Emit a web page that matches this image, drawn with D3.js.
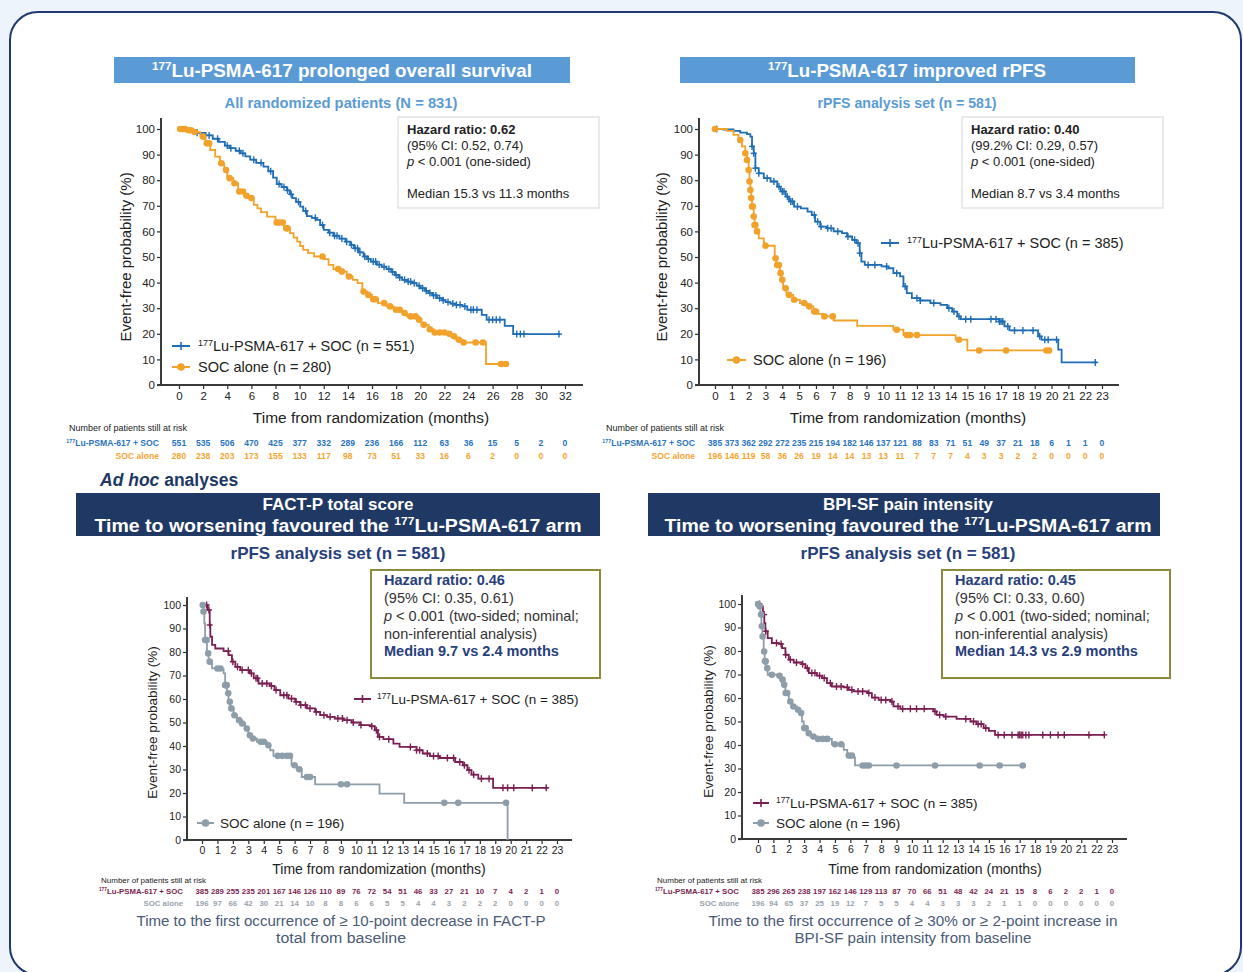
<!DOCTYPE html>
<html>
<head>
<meta charset="utf-8">
<script src="https://cdn.jsdelivr.net/npm/d3@7"></script>
<style>
  body { margin: 0; background: #edf4fb; }
  svg { display: block; }
  text { font-family: "Liberation Sans", Arial, sans-serif; }
</style>
</head>
<body>
<svg id="chart" width="1243" height="972"></svg>
<script>
// ---------- shared ticks ----------
const yTicks = [0, 10, 20, 30, 40, 50, 60, 70, 80, 90, 100];
const osMonths = [0, 2, 4, 6, 8, 10, 12, 14, 16, 18, 20, 22, 24, 26, 28, 30, 32];
const rpfsMonths = d3.range(0, 24);

// ---------- Overall survival (all randomized, N = 831) ----------
const osLuSteps = [[0,100],[0.8,99.5],[1.5,98.5],[2.2,97.5],[2.8,96.2],[3.3,95],[3.8,93.5],[4.2,92.5],[4.7,91.5],[5.1,90.5],[5.5,89.3],[5.9,88],[6.4,86.8],[7.0,85.3],[7.4,83.5],[7.8,81],[8.1,78.5],[8.5,77.3],[8.95,76],[9.2,74.5],[9.4,73],[9.7,71.5],[10.05,69.7],[10.3,68],[10.6,66],[11.0,65.3],[11.4,64.5],[11.7,62.5],[12.0,60.6],[12.4,59.5],[12.8,58.3],[13.3,57.2],[13.8,56],[14.2,54.7],[14.5,53.4],[14.9,51.8],[15.3,50.2],[15.6,49.2],[15.9,48.2],[16.4,47],[16.8,46.2],[17.2,45.3],[17.6,44.2],[17.9,43],[18.2,42],[18.5,41.1],[18.9,40.4],[19.3,39.8],[19.7,38.8],[20.0,37.8],[20.4,36.8],[20.7,35.9],[21.0,35],[21.4,33.9],[21.8,33.1],[22.1,32.4],[22.5,31.8],[22.9,31.3],[23.5,30.7],[23.9,29.4],[25.1,27.4],[25.5,25.5],[27.0,23.1],[27.7,19.9],[31.6,19.9]];
const osSocSteps = [[0,100],[0.6,99.5],[1.2,98.8],[1.77,97],[2.2,94.4],[2.6,91.8],[3.0,89.2],[3.4,86.6],[3.75,84],[4.0,80.8],[4.5,78.8],[4.9,75.6],[5.4,73.9],[5.8,73],[6.2,70.4],[6.5,69],[6.8,67.5],[7.3,65.8],[8.0,63.5],[8.7,61.2],[9.2,59.3],[9.5,57.6],[9.8,56],[10.05,54.3],[10.3,52.8],[10.7,51.5],[11.2,50.2],[12.0,49.2],[12.4,46.9],[12.8,45.3],[13.4,44.3],[13.9,42.4],[14.4,41.1],[14.8,39.8],[15.2,36.5],[15.6,35.2],[16.0,33.5],[16.5,32],[17.2,30.7],[17.8,29.4],[18.5,28.1],[18.9,26.8],[19.9,25.5],[20.1,23.5],[20.7,21.8],[21.1,20.5],[22.2,20],[22.5,19],[23.0,17.7],[23.5,16.6],[25.45,8.2],[27.2,8.2]];
const osLuCensor = [1.5,2.5,3.2,4.0,4.3,5.0,5.3,6.2,6.8,7.6,8.3,8.7,9.0,9.3,9.9,10.5,11.3,11.9,12.5,12.9,13.1,13.5,13.9,14.3,14.6,14.8,15.0,15.4,15.7,16.1,16.3,16.6,17.0,17.4,17.7,18.0,18.3,18.7,19.0,19.2,19.5,19.9,20.2,20.5,20.8,21.1,21.3,21.6,21.9,22.3,22.7,23.0,23.3,23.7,24.2,24.4,24.7,25.7,26.0,26.3,26.6,28.0,28.3,28.6,31.5];
const osSocCensor = [0.1,0.3,0.5,0.8,1.0,1.3,2.0,2.3,2.5,3.5,3.9,4.2,4.6,5.0,5.3,5.6,6.0,8.1,8.3,8.6,8.9,9.0,11.9,13.2,13.5,14.1,15.3,15.7,16.1,16.3,17.0,17.5,18.0,18.3,18.7,19.2,19.6,19.9,20.3,20.8,21.2,21.6,22.0,22.4,22.8,23.2,23.6,24.6,25.2,26.7,27.1];
const osRiskLu = [551,535,506,470,425,377,332,289,236,166,112,63,36,15,5,2,0];
const osRiskSoc = [280,238,203,173,155,133,117,98,73,51,33,16,6,2,0,0,0];

// ---------- rPFS (rPFS analysis set, n = 581) ----------
const rpfsLuSteps = [[0,100],[0.5,99.8],[1.1,99.3],[1.5,98.6],[1.9,98],[2.1,97],[2.2,93.2],[2.3,90.5],[2.4,84.7],[2.6,82.7],[2.9,80.8],[3.3,79.5],[3.7,77.5],[3.9,75.6],[4.2,73.6],[4.4,71.7],[4.7,69.7],[5.1,69],[5.5,67.7],[5.75,66.4],[5.95,63.8],[6.25,61.9],[6.65,61.2],[7.05,60],[7.55,59.3],[7.85,58],[8.15,56.7],[8.4,55.4],[8.6,51.5],[8.7,48.2],[8.9,46.9],[9.9,46.3],[10.3,45.6],[10.6,43.7],[11.0,42.4],[11.2,38.5],[11.4,35.9],[11.7,33.9],[12.2,33],[12.8,32],[13.4,31.3],[13.8,30],[14.1,28.7],[14.4,26.8],[14.6,25.7],[16.9,24.8],[17.2,22.9],[17.5,21.3],[19.2,19],[19.4,17.7],[20.4,13.8],[20.6,8.8],[22.7,8.8]];
const rpfsSocSteps = [[0,100],[0.7,99.3],[1.1,97.7],[1.4,95.7],[1.6,93.2],[1.8,90.5],[1.9,87.9],[2.0,84],[2.05,79.5],[2.1,76.2],[2.15,73],[2.2,69.7],[2.3,65.8],[2.35,62.5],[2.45,60],[2.6,57.3],[2.9,55.4],[3.0,54.4],[3.55,49.5],[3.65,46.9],[3.85,43.7],[3.95,41.1],[4.05,37.8],[4.25,35.2],[4.65,33.3],[5.05,32],[5.45,30.7],[5.85,28.7],[6.05,27.8],[6.45,26.8],[7.05,25.2],[8.45,23.1],[10.6,21.6],[11.2,19.5],[14.3,17.7],[15.0,13.5],[19.9,13.5]];
const rpfsLuCensor = [0.1,2.2,2.3,2.4,2.6,3.1,3.5,3.8,4.0,4.1,4.3,4.5,4.6,4.9,5.9,6.1,6.3,6.7,6.9,7.3,7.9,8.3,8.5,8.6,9.1,9.5,10.2,10.8,11.3,12.0,12.2,13.0,13.9,14.2,14.5,14.9,15.2,16.4,16.7,16.9,17.0,17.1,17.4,17.8,18.3,18.9,19.3,19.6,19.8,20.3,22.6];
const rpfsSocCensor = [0,1.5,1.8,1.9,2.0,2.05,2.1,2.15,2.2,2.25,2.3,2.35,2.4,2.5,3.0,3.6,3.7,3.8,3.9,4.0,4.2,4.4,4.7,5.3,5.6,5.9,6.0,6.5,7.0,10.8,11.4,11.6,12.0,14.5,15.7,17.3,19.7,19.85];
const rpfsRiskLu = [385,373,362,292,272,235,215,194,182,146,137,121,88,83,71,51,49,37,21,18,6,1,1,0];
const rpfsRiskSoc = [196,146,119,58,36,26,19,14,14,13,13,11,7,7,7,4,3,3,2,2,0,0,0,0];

// ---------- FACT-P total score, time to worsening ----------
const factLuSteps = [[0,100],[0.37,97.9],[0.5,91.5],[0.54,86.5],[0.65,83],[0.86,81.5],[1.4,80.4],[1.72,78.7],[1.94,75.9],[2.16,73.7],[2.48,72.3],[3.1,70.9],[3.35,68.8],[3.66,66.6],[4.4,65.6],[4.7,63.8],[5.07,61.6],[5.6,60.2],[6.04,58.8],[6.36,57.4],[6.8,56],[7.33,54.5],[7.65,53.1],[8.1,52.4],[8.6,51.7],[9.16,51],[9.7,50],[10.24,48.9],[10.9,48.4],[11.2,46.7],[11.4,43.9],[11.75,42.9],[12.4,41],[12.8,39.6],[13.9,38.2],[14.3,36.8],[14.77,35.7],[15.4,34.9],[16.4,33.2],[16.9,31.8],[17.2,29.7],[17.46,27.8],[17.9,26.1],[18.86,22.2],[22.4,22.2]];
const factSocSteps = [[0,100],[0.1,97.2],[0.15,92.2],[0.2,85.1],[0.32,79.4],[0.43,75.9],[0.65,73],[1.3,72.7],[1.4,70.9],[1.5,65.9],[1.62,62.4],[1.72,58.8],[1.83,56],[2.05,53.1],[2.26,51],[2.59,49.6],[2.8,47.4],[3.0,44.6],[3.23,43.2],[3.56,41.8],[4.2,40.3],[4.42,38.2],[4.63,35.8],[5.8,31.8],[6.14,30.1],[6.46,26.8],[7.33,23.7],[11.5,19.7],[13.1,15.8],[19.8,0]];
const factLuCensor = [0.3,0.45,0.5,1.7,2.0,2.3,2.6,3.0,3.2,3.5,3.6,3.9,4.2,4.5,4.8,5.3,5.5,5.8,6.1,6.4,6.7,7.0,7.4,7.9,8.3,8.8,9.1,9.4,9.8,10.3,11.0,11.3,11.5,12.1,13.5,13.9,14.1,14.6,15.0,15.3,15.9,16.3,16.7,17.0,17.3,17.6,18.1,18.6,19.5,19.8,20.2,21.4,22.3];
const factSocCensor = [0.05,0.1,0.2,0.25,0.3,0.4,0.5,1.0,1.2,1.5,1.55,1.6,1.7,1.8,1.9,2.1,2.4,2.6,2.9,3.1,3.3,3.8,4.0,4.3,4.9,5.2,5.5,5.7,6.0,6.3,6.8,7.0,9.0,9.4,15.7,16.6,19.7];
const factRiskLu = [385,289,255,235,201,167,146,126,110,89,76,72,54,51,46,33,27,21,10,7,4,2,1,0];
const factRiskSoc = [196,97,66,42,30,21,14,10,8,8,6,6,5,5,4,4,3,2,2,2,0,0,0,0];

// ---------- BPI-SF pain intensity, time to worsening ----------
const bpiLuSteps = [[0,100],[0.2,99],[0.32,95.5],[0.41,91.9],[0.48,88.4],[0.63,85.5],[0.9,83.4],[1.34,83],[1.56,81.2],[1.78,78.4],[2.0,76.3],[2.32,75.1],[2.86,74.4],[3.08,72.7],[3.3,70.6],[3.83,69.5],[4.16,68.5],[4.48,66.3],[4.8,64.9],[5.57,64.5],[5.9,63.5],[6.2,62.8],[7.1,62.1],[7.4,60.2],[7.84,59.2],[8.6,58.5],[8.8,56.4],[9.25,55.4],[11.4,54.3],[11.6,52.8],[12.06,52.1],[12.9,51.1],[13.8,50],[14.2,48.9],[14.66,47.2],[15.0,46],[15.4,44.3],[22.5,44.3]];
const bpiSocSteps = [[0,100],[0.06,99],[0.15,95.5],[0.22,90.5],[0.28,86.2],[0.37,79.8],[0.43,75.6],[0.54,72.7],[0.63,69.9],[1.23,69.5],[1.45,67.8],[1.67,65.6],[1.78,62.1],[2.0,58.5],[2.2,56.4],[2.53,55],[2.75,53.6],[2.86,50],[2.97,47.2],[3.18,45],[3.4,43.6],[3.83,42.6],[4.8,40.3],[5.57,37.9],[5.8,35.5],[6.2,34.7],[6.3,31.3],[17.4,31.3]];
const bpiLuCensor = [0.1,0.4,0.5,1.2,1.5,1.8,2.1,2.5,2.9,3.2,3.5,3.7,4.0,4.3,4.7,5.1,5.4,5.8,6.1,6.5,6.8,7.2,7.6,8.0,8.3,8.7,9.1,9.4,9.9,10.3,10.8,11.5,11.8,12.2,13.5,14.0,14.3,14.5,14.8,15.6,16.0,16.5,16.9,17.0,17.1,17.2,17.4,17.6,18.5,19.0,19.5,19.9,21.5,22.5];
const bpiSocCensor = [0,0.1,0.2,0.25,0.3,0.4,0.45,0.5,0.6,0.9,1.4,1.6,1.7,1.8,1.9,2.1,2.3,2.6,2.8,3.0,3.1,3.3,3.6,3.9,4.2,4.5,5.0,5.4,5.9,6.1,6.8,7.0,7.2,9.0,11.5,14.4,15.7,17.2];
const bpiRiskLu = [385,296,265,238,197,162,146,129,113,87,70,66,51,48,42,24,21,15,8,6,2,2,1,0];
const bpiRiskSoc = [196,94,65,37,25,19,12,7,5,5,4,4,3,3,3,2,1,1,0,0,0,0,0,0];

// ---------- colours ----------
const C = {
  blue: "#1f6db4", orange: "#f2a22a", plum: "#7b1f52", slate: "#8d9eaa",
  lightHeader: "#5b9bd5", navy: "#203864", navyText: "#27407c", foot: "#4a5a78",
  axis: "#3a3a3a", tick: "#2b2b2b"
};

const svg = d3.select("#chart");

// card
svg.append("rect").attr("x", 10).attr("y", 12).attr("width", 1231).attr("height", 963)
  .attr("rx", 28).attr("fill", "#ffffff").attr("stroke", "#1f3a6e").attr("stroke-width", 2);

// text with an optional superscript "177" prefix
function richText(parent, x, y, parts, opts) {
  const t = parent.append("text").attr("x", x).attr("y", y)
    .attr("font-size", opts.size).attr("fill", opts.fill || "#222")
    .attr("font-weight", opts.weight || "normal")
    .attr("text-anchor", opts.anchor || "start");
  if (opts.family) t.style("font-family", opts.family);
  if (opts.width) t.attr("textLength", opts.width).attr("lengthAdjust", "spacingAndGlyphs");
  if (opts.spacing) t.attr("letter-spacing", opts.spacing);
  let shifted = false;
  parts.forEach(p => {
    const s = t.append("tspan").text(p.t);
    if (p.sup) {
      s.attr("font-size", opts.size * 0.62).attr("dy", -opts.size * 0.38);
      shifted = true;
    } else if (shifted) {
      s.attr("dy", opts.size * 0.38);
      shifted = false;
    }
    if (p.bold) s.attr("font-weight", "bold");
    if (p.italic) s.attr("font-style", "italic");
    if (p.fill) s.attr("fill", p.fill);
  });
  return t;
}

const luLabel = [{t: "177", sup: true}, {t: "Lu-PSMA-617 + SOC"}];

function survivalAt(steps, t) {
  const i = d3.bisector(d => d[0]).right(steps, t) - 1;
  return steps[Math.max(0, i)][1];
}

function drawPanel(cfg) {
  const g = svg.append("g");
  const months = cfg.months;
  const x = d3.scaleLinear().domain([0, months[months.length - 1]]).range([cfg.x0, cfg.x1]);
  const y = d3.scaleLinear().domain([0, 100]).range([cfg.yb, cfg.yt]);

  // axes
  const xa = g.append("g").attr("transform", `translate(0,${cfg.yb})`)
    .call(d3.axisBottom(x).tickValues(months).tickSize(4).tickPadding(3));
  const ya = g.append("g").attr("transform", `translate(${cfg.axisL},0)`)
    .call(d3.axisLeft(y).tickValues(yTicks).tickSize(4).tickPadding(2));
  [xa, ya].forEach(a => {
    a.select(".domain").remove();
    a.selectAll("line").attr("stroke", C.tick).attr("stroke-width", 1.2);
    a.selectAll("text").attr("font-size", cfg.tickSize).attr("fill", "#222")
      .style("font-family", '"Liberation Sans", Arial, sans-serif');
  });
  g.append("line").attr("x1", cfg.axisL).attr("x2", cfg.axisL).attr("y1", cfg.axisTop).attr("y2", cfg.yb + 0.5)
    .attr("stroke", C.axis).attr("stroke-width", 2);
  g.append("line").attr("x1", cfg.axisL - 4).attr("x2", cfg.axisR).attr("y1", cfg.yb).attr("y2", cfg.yb)
    .attr("stroke", C.axis).attr("stroke-width", 2);

  // axis titles
  g.append("text").attr("transform", `translate(${cfg.yTitleX},${(cfg.yt + cfg.yb) / 2}) rotate(-90)`)
    .attr("text-anchor", "middle").attr("font-size", cfg.titleSize).attr("fill", "#222")
    .text("Event-free probability (%)");
  g.append("text").attr("x", cfg.xTitleX).attr("y", cfg.xTitleY).attr("text-anchor", "middle")
    .attr("font-size", cfg.titleSize + 0.5).attr("fill", "#222")
    .text("Time from randomization (months)");

  // curves
  const line = d3.line().x(d => x(d[0])).y(d => y(d[1])).curve(d3.curveStepAfter);
  cfg.series.forEach(s => {
    g.append("path").datum(s.steps).attr("d", line).attr("fill", "none")
      .attr("stroke", s.color).attr("stroke-width", 1.8);
    const cg = g.append("g");
    s.censor.forEach(t => {
      const cx = x(t), cy = y(survivalAt(s.steps, t));
      if (s.mark === "plus") {
        cg.append("line").attr("x1", cx).attr("x2", cx).attr("y1", cy - 3.5).attr("y2", cy + 3.5)
          .attr("stroke", s.color).attr("stroke-width", 1.4);
        cg.append("line").attr("x1", cx - 3).attr("x2", cx + 3).attr("y1", cy).attr("y2", cy)
          .attr("stroke", s.color).attr("stroke-width", 1.4);
      } else {
        cg.append("circle").attr("cx", cx).attr("cy", cy).attr("r", 3.3).attr("fill", s.color);
      }
    });
  });

  // legend
  cfg.series.forEach(s => {
    const L = s.legend;
    g.append("line").attr("x1", L.x).attr("x2", L.x + L.len).attr("y1", L.y).attr("y2", L.y)
      .attr("stroke", s.color).attr("stroke-width", 2);
    const mx = L.x + L.len / 2;
    if (s.mark === "plus") {
      g.append("line").attr("x1", mx).attr("x2", mx).attr("y1", L.y - 4).attr("y2", L.y + 4)
        .attr("stroke", s.color).attr("stroke-width", 1.6);
    } else {
      g.append("circle").attr("cx", mx).attr("cy", L.y).attr("r", 3.8).attr("fill", s.color);
    }
    richText(g, L.tx, L.y + cfg.legendSize * 0.36, s.legendText, {size: cfg.legendSize, fill: "#222"});
  });

  // info box
  const B = cfg.box;
  g.append("rect").attr("x", B.x).attr("y", B.y).attr("width", B.w).attr("height", B.h)
    .attr("fill", "#fff").attr("stroke", B.stroke).attr("stroke-width", B.sw);
  B.lines.forEach((ln, i) => {
    richText(g, B.tx, B.ys[i], ln, {size: B.size, fill: B.fill, spacing: B.spacing});
  });

  // numbers at risk
  const R = cfg.risk;
  g.append("text").attr("x", R.headX).attr("y", R.headY).attr("font-size", R.headSize).attr("fill", "#222")
    .text("Number of patients still at risk");
  cfg.series.forEach((s, k) => {
    const ry = R.rowY[k];
    richText(g, R.labelX, ry, k === 0 ? luLabel : [{t: "SOC alone"}],
      {size: R.size, fill: s.riskColor, anchor: "end", weight: R.weight});
    g.append("g").selectAll("text").data(s.risk).join("text")
      .attr("x", (d, i) => x(months[i])).attr("y", ry)
      .attr("text-anchor", "middle").attr("font-size", R.size).attr("font-weight", R.weight)
      .attr("fill", s.riskColor).text(d => d);
  });
}

// ---------- section headings ----------
const narrow = '"Liberation Sans Narrow", "Liberation Sans", Arial, sans-serif';

svg.append("rect").attr("x", 114).attr("y", 57).attr("width", 456).attr("height", 26).attr("fill", C.lightHeader);
richText(svg, 342, 77, [{t: "177", sup: true}, {t: "Lu-PSMA-617 prolonged overall survival"}],
  {size: 19, fill: "#fff", weight: "bold", anchor: "middle", width: 380, family: narrow});
svg.append("text").attr("x", 341).attr("y", 108).attr("text-anchor", "middle").attr("font-size", 15.5)
  .attr("font-weight", "bold").attr("fill", C.lightHeader).style("font-family", narrow)
  .attr("textLength", 233).attr("lengthAdjust", "spacingAndGlyphs")
  .text("All randomized patients (N = 831)");

svg.append("rect").attr("x", 680).attr("y", 57).attr("width", 455).attr("height", 26).attr("fill", C.lightHeader);
richText(svg, 907, 77, [{t: "177", sup: true}, {t: "Lu-PSMA-617 improved rPFS"}],
  {size: 19, fill: "#fff", weight: "bold", anchor: "middle", width: 278, family: narrow});
svg.append("text").attr("x", 907).attr("y", 108).attr("text-anchor", "middle").attr("font-size", 15.5)
  .attr("font-weight", "bold").attr("fill", C.lightHeader).style("font-family", narrow)
  .attr("textLength", 179).attr("lengthAdjust", "spacingAndGlyphs")
  .text("rPFS analysis set (n = 581)");

richText(svg, 100, 486, [{t: "Ad hoc", italic: true}, {t: " analyses"}],
  {size: 17.5, fill: C.navy, weight: "bold"});

[{x: 76, w: 524, cx: 338, top: "FACT-P total score"},
 {x: 648, w: 512, cx: 908, top: "BPI-SF pain intensity"}].forEach(h => {
  svg.append("rect").attr("x", h.x).attr("y", 493).attr("width", h.w).attr("height", 43).attr("fill", C.navy);
  svg.append("text").attr("x", h.cx).attr("y", 510).attr("text-anchor", "middle").attr("font-size", 17)
    .attr("font-weight", "bold").attr("fill", "#fff").text(h.top);
  richText(svg, h.cx, 532, [{t: "Time to worsening favoured the "}, {t: "177", sup: true}, {t: "Lu-PSMA-617 arm"}],
    {size: 17.5, fill: "#fff", weight: "bold", anchor: "middle", width: 487});
  svg.append("text").attr("x", h.cx).attr("y", 559).attr("text-anchor", "middle").attr("font-size", 17)
    .attr("font-weight", "bold").attr("fill", C.navyText).text("rPFS analysis set (n = 581)");
});

// ---------- panels ----------
const topBox = (x, lines) => ({
  x: x, y: 117, w: 201, h: 91, stroke: "#d6d6d6", sw: 1, size: 13, fill: "#222",
  tx: x + 9, ys: [134, 150, 166, 198], lines: lines
});
const bottomBox = (x, w, lines) => ({
  x: x, y: 570, w: w, h: 108, stroke: "#8c8a3c", sw: 2, size: 14.5, fill: "#333",
  tx: x + 13, ys: [585, 603, 621, 639, 656], lines: lines
});

drawPanel({
  months: osMonths, x0: 179, x1: 565, yt: 129, yb: 385, axisL: 161, axisR: 583, axisTop: 118,
  tickSize: 11.5, titleSize: 15, yTitleX: 131, xTitleX: 371, xTitleY: 423, legendSize: 14.5,
  series: [
    {steps: osLuSteps, censor: osLuCensor, color: C.blue, mark: "plus", risk: osRiskLu, riskColor: "#2a73bd",
     legend: {x: 172, len: 18, y: 346, tx: 198}, legendText: [{t: "177", sup: true}, {t: "Lu-PSMA-617 + SOC (n = 551)"}]},
    {steps: osSocSteps, censor: osSocCensor, color: C.orange, mark: "dot", risk: osRiskSoc, riskColor: "#f3a532",
     legend: {x: 172, len: 18, y: 367, tx: 198}, legendText: [{t: "SOC alone (n = 280)"}]}
  ],
  box: topBox(398, [
    [{t: "Hazard ratio: 0.62", bold: true}],
    [{t: "(95% CI: 0.52, 0.74)"}],
    [{t: "p", italic: true}, {t: " < 0.001 (one-sided)"}],
    [{t: "Median 15.3 vs 11.3 months"}]
  ]),
  risk: {headX: 69, headY: 431, headSize: 9, labelX: 159, rowY: [446, 459], size: 8.6, weight: "bold"}
});

drawPanel({
  months: rpfsMonths, x0: 715, x1: 1102, yt: 129, yb: 385, axisL: 699, axisR: 1119, axisTop: 118,
  tickSize: 11.5, titleSize: 15, yTitleX: 667, xTitleX: 908, xTitleY: 423, legendSize: 14.5,
  series: [
    {steps: rpfsLuSteps, censor: rpfsLuCensor, color: C.blue, mark: "plus", risk: rpfsRiskLu, riskColor: "#2a73bd",
     legend: {x: 881, len: 18, y: 243, tx: 907}, legendText: [{t: "177", sup: true}, {t: "Lu-PSMA-617 + SOC (n = 385)"}]},
    {steps: rpfsSocSteps, censor: rpfsSocCensor, color: C.orange, mark: "dot", risk: rpfsRiskSoc, riskColor: "#f3a532",
     legend: {x: 727, len: 19, y: 360, tx: 753}, legendText: [{t: "SOC alone (n = 196)"}]}
  ],
  box: topBox(962, [
    [{t: "Hazard ratio: 0.40", bold: true}],
    [{t: "(99.2% CI: 0.29, 0.57)"}],
    [{t: "p", italic: true}, {t: " < 0.001 (one-sided)"}],
    [{t: "Median 8.7 vs 3.4 months"}]
  ]),
  risk: {headX: 606, headY: 431, headSize: 9, labelX: 695, rowY: [446, 459], size: 8.6, weight: "bold"}
});

drawPanel({
  months: rpfsMonths, x0: 202, x1: 557, yt: 605, yb: 840, axisL: 187, axisR: 572, axisTop: 597,
  tickSize: 10.5, titleSize: 13.5, yTitleX: 157, xTitleX: 379, xTitleY: 874, legendSize: 13.5,
  series: [
    {steps: factLuSteps, censor: factLuCensor, color: C.plum, mark: "plus", risk: factRiskLu, riskColor: "#7b1f52",
     legend: {x: 354, len: 17, y: 699, tx: 377}, legendText: [{t: "177", sup: true}, {t: "Lu-PSMA-617 + SOC (n = 385)"}]},
    {steps: factSocSteps, censor: factSocCensor, color: C.slate, mark: "dot", risk: factRiskSoc, riskColor: "#98a3ad",
     legend: {x: 197, len: 17, y: 823, tx: 220}, legendText: [{t: "SOC alone (n = 196)"}]}
  ],
  box: bottomBox(371, 229, [
    [{t: "Hazard ratio: 0.46", bold: true, fill: C.navyText}],
    [{t: "(95% CI: 0.35, 0.61)"}],
    [{t: "p", italic: true}, {t: " < 0.001 (two-sided; nominal;"}],
    [{t: "non-inferential analysis)"}],
    [{t: "Median 9.7 vs 2.4 months", bold: true, fill: C.navyText}]
  ]),
  risk: {headX: 101, headY: 883, headSize: 8, labelX: 183, rowY: [894, 906], size: 7.8, weight: "bold"}
});

drawPanel({
  months: rpfsMonths, x0: 758, x1: 1112, yt: 604, yb: 839, axisL: 742, axisR: 1127, axisTop: 595,
  tickSize: 10.5, titleSize: 13.5, yTitleX: 713, xTitleX: 935, xTitleY: 874, legendSize: 13.5,
  series: [
    {steps: bpiLuSteps, censor: bpiLuCensor, color: C.plum, mark: "plus", risk: bpiRiskLu, riskColor: "#7b1f52",
     legend: {x: 753, len: 16, y: 803, tx: 776}, legendText: [{t: "177", sup: true}, {t: "Lu-PSMA-617 + SOC (n = 385)"}]},
    {steps: bpiSocSteps, censor: bpiSocCensor, color: C.slate, mark: "dot", risk: bpiRiskSoc, riskColor: "#98a3ad",
     legend: {x: 753, len: 16, y: 823, tx: 776}, legendText: [{t: "SOC alone (n = 196)"}]}
  ],
  box: bottomBox(942, 228, [
    [{t: "Hazard ratio: 0.45", bold: true, fill: C.navyText}],
    [{t: "(95% CI: 0.33, 0.60)"}],
    [{t: "p", italic: true}, {t: " < 0.001 (two-sided; nominal;"}],
    [{t: "non-inferential analysis)"}],
    [{t: "Median 14.3 vs 2.9 months", bold: true, fill: C.navyText}]
  ]),
  risk: {headX: 657, headY: 883, headSize: 8, labelX: 739, rowY: [894, 906], size: 7.8, weight: "bold"}
});

// ---------- footnotes ----------
[{cx: 341, l1: "Time to the first occurrence of \u2265 10-point decrease in FACT-P", l2: "total from baseline", w2: 130},
 {cx: 913, l1: "Time to the first occurrence of \u2265 30% or \u2265 2-point increase in", l2: "BPI-SF pain intensity from baseline", w2: 237}]
.forEach(f => {
  svg.append("text").attr("x", f.cx).attr("y", 926).attr("text-anchor", "middle").attr("font-size", 15.5)
    .attr("fill", C.foot).style("font-family", narrow)
    .attr("textLength", 409).attr("lengthAdjust", "spacingAndGlyphs").text(f.l1);
  svg.append("text").attr("x", f.cx).attr("y", 943).attr("text-anchor", "middle").attr("font-size", 15.5)
    .attr("fill", C.foot).style("font-family", narrow)
    .attr("textLength", f.w2).attr("lengthAdjust", "spacingAndGlyphs").text(f.l2);
});
</script>
</body>
</html>
